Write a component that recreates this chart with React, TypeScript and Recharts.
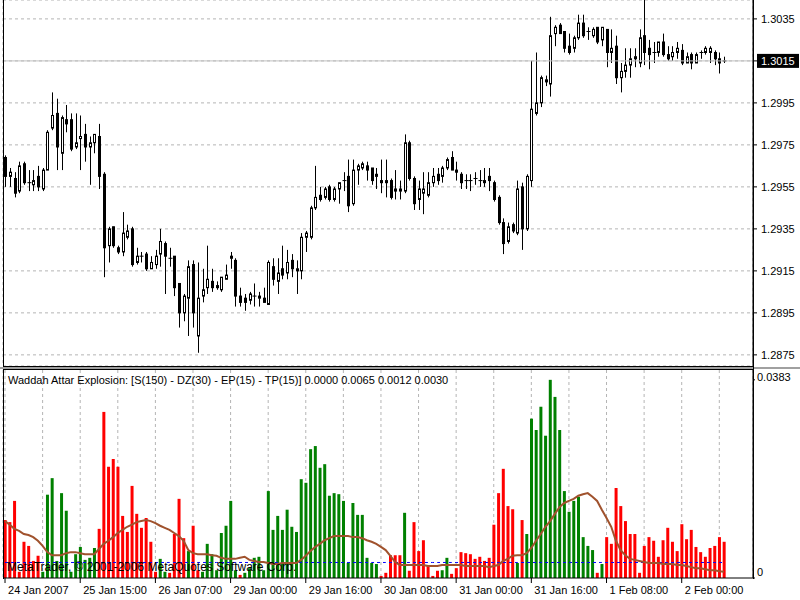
import React from 'react';
import { ComposedChart, Bar, Line, XAxis, YAxis, CartesianGrid, ReferenceLine } from 'recharts';

// EURUSD H1, 154 bars
const openPrices = [
  1.2969, 1.2960, 1.2959, 1.2953, 1.2966, 1.2957, 1.2956, 1.2960, 1.2954, 1.2963,
  1.2983, 1.2990, 1.2971, 1.2987, 1.2987, 1.2974, 1.2978, 1.2980, 1.2974, 1.2976,
  1.2979, 1.2961, 1.2927, 1.2936, 1.2926, 1.2924, 1.2931, 1.2935, 1.2919, 1.2922,
  1.2923, 1.2916, 1.2918, 1.2923, 1.2928, 1.2921, 1.2922, 1.2909, 1.2895, 1.2902,
  1.2918, 1.2884, 1.2903, 1.2907, 1.2910, 1.2907, 1.2906, 1.2911, 1.2921, 1.2920,
  1.2903, 1.2902, 1.2901, 1.2903, 1.2902, 1.2902, 1.2899, 1.2917, 1.2910, 1.2916,
  1.2914, 1.2920, 1.2915, 1.2915, 1.2931, 1.2931, 1.2945, 1.2951, 1.2950, 1.2955,
  1.2949, 1.2954, 1.2958, 1.2960, 1.2947, 1.2963, 1.2964, 1.2965, 1.2964, 1.2960,
  1.2958, 1.2957, 1.2958, 1.2954, 1.2953, 1.2953, 1.2976, 1.2959, 1.2949, 1.2952,
  1.2951, 1.2957, 1.2961, 1.2960, 1.2964, 1.2969, 1.2963, 1.2961, 1.2958, 1.2958,
  1.2959, 1.2958, 1.2957, 1.2960, 1.2957, 1.2950, 1.2938, 1.2929, 1.2937, 1.2933,
  1.2955, 1.2935, 1.2958, 1.2990, 1.2995, 1.3005, 1.3004, 1.3028, 1.3032, 1.3029,
  1.3022, 1.3021, 1.3026, 1.3033, 1.3029, 1.3027, 1.3031, 1.3025, 1.3030, 1.3019,
  1.3022, 1.3007, 1.3010, 1.3013, 1.3016, 1.3014, 1.3027, 1.3021, 1.3019, 1.3019,
  1.3024, 1.3018, 1.3017, 1.3019, 1.3020, 1.3014, 1.3018, 1.3014, 1.3019, 1.3019,
  1.3019, 1.3019, 1.3016, 1.3015,
];
const highPrices = [
  1.2970, 1.2964, 1.2962, 1.2967, 1.2967, 1.2963, 1.2963, 1.2965, 1.2964, 1.2982,
  1.3000, 1.2997, 1.2989, 1.2994, 1.2990, 1.2990, 1.2989, 1.2985, 1.2979, 1.2980,
  1.2985, 1.2962, 1.2936, 1.2936, 1.2927, 1.2943, 1.2937, 1.2936, 1.2926, 1.2924,
  1.2924, 1.2922, 1.2925, 1.2935, 1.2929, 1.2926, 1.2922, 1.2909, 1.2904, 1.2920,
  1.2920, 1.2919, 1.2916, 1.2927, 1.2916, 1.2910, 1.2912, 1.2918, 1.2924, 1.2921,
  1.2907, 1.2904, 1.2905, 1.2909, 1.2905, 1.2907, 1.2920, 1.2921, 1.2921, 1.2927,
  1.2925, 1.2923, 1.2920, 1.2933, 1.2934, 1.2946, 1.2965, 1.2955, 1.2955, 1.2956,
  1.2955, 1.2957, 1.2962, 1.2968, 1.2968, 1.2966, 1.2967, 1.2967, 1.2964, 1.2964,
  1.2968, 1.2968, 1.2959, 1.2963, 1.2958, 1.2980, 1.2977, 1.2960, 1.2958, 1.2962,
  1.2962, 1.2964, 1.2964, 1.2965, 1.2969, 1.2972, 1.2967, 1.2962, 1.2961, 1.2961,
  1.2962, 1.2963, 1.2964, 1.2964, 1.2958, 1.2951, 1.2940, 1.2938, 1.2938, 1.2958,
  1.2957, 1.2961, 1.3015, 1.3019, 1.3008, 1.3008, 1.3036, 1.3032, 1.3033, 1.3029,
  1.3028, 1.3027, 1.3037, 1.3037, 1.3031, 1.3031, 1.3031, 1.3031, 1.3030, 1.3030,
  1.3027, 1.3014, 1.3021, 1.3021, 1.3021, 1.3030, 1.3044, 1.3025, 1.3024, 1.3024,
  1.3028, 1.3022, 1.3022, 1.3024, 1.3023, 1.3019, 1.3019, 1.3019, 1.3020, 1.3022,
  1.3022, 1.3020, 1.3019, 1.3017,
];
const lowPrices = [
  1.2955, 1.2955, 1.2950, 1.2952, 1.2956, 1.2953, 1.2953, 1.2953, 1.2953, 1.2963,
  1.2982, 1.2963, 1.2963, 1.2981, 1.2972, 1.2973, 1.2963, 1.2967, 1.2956, 1.2971,
  1.2954, 1.2912, 1.2919, 1.2926, 1.2923, 1.2922, 1.2930, 1.2917, 1.2918, 1.2919,
  1.2915, 1.2916, 1.2916, 1.2917, 1.2904, 1.2917, 1.2903, 1.2888, 1.2891, 1.2884,
  1.2888, 1.2876, 1.2900, 1.2904, 1.2905, 1.2906, 1.2905, 1.2911, 1.2916, 1.2898,
  1.2898, 1.2896, 1.2899, 1.2898, 1.2898, 1.2900, 1.2899, 1.2908, 1.2904, 1.2911,
  1.2911, 1.2912, 1.2904, 1.2911, 1.2924, 1.2930, 1.2944, 1.2948, 1.2949, 1.2948,
  1.2948, 1.2947, 1.2953, 1.2943, 1.2946, 1.2956, 1.2963, 1.2958, 1.2956, 1.2954,
  1.2952, 1.2950, 1.2949, 1.2949, 1.2949, 1.2952, 1.2958, 1.2944, 1.2944, 1.2942,
  1.2950, 1.2955, 1.2956, 1.2957, 1.2963, 1.2963, 1.2958, 1.2954, 1.2954, 1.2953,
  1.2956, 1.2955, 1.2955, 1.2953, 1.2948, 1.2937, 1.2923, 1.2928, 1.2933, 1.2932,
  1.2925, 1.2934, 1.2955, 1.2989, 1.2993, 1.3003, 1.2998, 1.3022, 1.3028, 1.3019,
  1.3018, 1.3019, 1.3025, 1.3026, 1.3025, 1.3026, 1.3023, 1.3022, 1.3012, 1.3014,
  1.3004, 1.3000, 1.3007, 1.3007, 1.3012, 1.3012, 1.3013, 1.3011, 1.3014, 1.3017,
  1.3017, 1.3015, 1.3015, 1.3016, 1.3013, 1.3014, 1.3011, 1.3014, 1.3016, 1.3018,
  1.3014, 1.3013, 1.3009, 1.3014,
];
const closePrices = [
  1.2960, 1.2962, 1.2952, 1.2965, 1.2957, 1.2957, 1.2958, 1.2955, 1.2963, 1.2981,
  1.2989, 1.2974, 1.2988, 1.2985, 1.2973, 1.2976, 1.2979, 1.2974, 1.2976, 1.2980,
  1.2960, 1.2926, 1.2935, 1.2927, 1.2924, 1.2933, 1.2934, 1.2918, 1.2922, 1.2922,
  1.2916, 1.2919, 1.2922, 1.2929, 1.2922, 1.2921, 1.2907, 1.2895, 1.2903, 1.2917,
  1.2895, 1.2902, 1.2906, 1.2911, 1.2907, 1.2908, 1.2912, 1.2913, 1.2922, 1.2903,
  1.2900, 1.2900, 1.2904, 1.2903, 1.2903, 1.2900, 1.2919, 1.2911, 1.2914, 1.2913,
  1.2919, 1.2916, 1.2916, 1.2931, 1.2933, 1.2945, 1.2950, 1.2949, 1.2954, 1.2949,
  1.2954, 1.2957, 1.2958, 1.2946, 1.2963, 1.2965, 1.2966, 1.2963, 1.2958, 1.2961,
  1.2957, 1.2958, 1.2950, 1.2953, 1.2954, 1.2976, 1.2959, 1.2947, 1.2954, 1.2954,
  1.2957, 1.2960, 1.2958, 1.2964, 1.2968, 1.2963, 1.2962, 1.2957, 1.2958, 1.2958,
  1.2959, 1.2958, 1.2958, 1.2958, 1.2949, 1.2938, 1.2928, 1.2936, 1.2934, 1.2954,
  1.2935, 1.2960, 1.2992, 1.2995, 1.3007, 1.3006, 1.3027, 1.3031, 1.3028, 1.3021,
  1.3019, 1.3026, 1.3033, 1.3027, 1.3029, 1.3030, 1.3024, 1.3031, 1.3019, 1.3021,
  1.3007, 1.3010, 1.3013, 1.3016, 1.3017, 1.3026, 1.3019, 1.3018, 1.3019, 1.3024,
  1.3018, 1.3016, 1.3019, 1.3021, 1.3014, 1.3017, 1.3014, 1.3018, 1.3019, 1.3021,
  1.3021, 1.3016, 1.3014, 1.3015,
];

// Waddah Attar Explosion buffers
const redHist = [
  0.0112, 0.0108, 0.0149, 0.0012, 0.0070, 0.0062, 0.0033, 0.0043, 0, 0,
  0, 0, 0, 0, 0, 0, 0, 0, 0, 0,
  0.0095, 0.0321, 0.0215, 0.0230, 0.0215, 0.0120, 0.0089, 0.0178, 0.0124, 0.0097,
  0.0116, 0.0070, 0.0012, 0, 0, 0.0010, 0.0085, 0.0153, 0.0077, 0,
  0.0101, 0.0015, 0, 0, 0, 0, 0, 0, 0, 0,
  0.0006, 0, 0, 0, 0, 0, 0, 0, 0, 0,
  0, 0, 0, 0, 0, 0, 0, 0, 0, 0,
  0, 0, 0, 0, 0, 0, 0, 0, 0, 0,
  0.0004, 0.0010, 0.0044, 0.0044, 0.0044, 0, 0.0014, 0.0108, 0.0052, 0.0073,
  0.0023, 0.0004, 0.0014, 0, 0, 0.0008, 0.0019, 0.0050, 0.0048, 0.0046,
  0.0037, 0.0041, 0.0033, 0.0039, 0.0103, 0.0164, 0.0211, 0.0139, 0.0133, 0,
  0.0112, 0, 0, 0, 0, 0, 0, 0, 0, 0,
  0, 0, 0, 0, 0, 0, 0.0010, 0, 0.0079, 0.0066,
  0.0174, 0.0139, 0.0110, 0.0085, 0.0085, 0.0010, 0.0062, 0.0079, 0.0072, 0.0041,
  0.0073, 0.0097, 0.0070, 0.0052, 0.0104, 0.0075, 0.0093, 0.0060, 0.0050, 0.0041,
  0.0058, 0.0062, 0.0079, 0.0070,
];
const greenHist = [
  0, 0, 0, 0, 0, 0, 0, 0, 0.0012, 0.0161,
  0.0193, 0.0033, 0.0164, 0.0130, 0.0012, 0.0046, 0.0060, 0.0035, 0.0039, 0.0058,
  0, 0, 0, 0, 0, 0, 0, 0, 0, 0,
  0, 0, 0, 0.0037, 0.0012, 0, 0, 0, 0, 0.0052,
  0, 0, 0.0012, 0.0066, 0.0046, 0.0015, 0.0087, 0.0101, 0.0149, 0.0015,
  0, 0.0010, 0.0019, 0.0039, 0.0041, 0.0015, 0.0168, 0.0093, 0.0120, 0.0093,
  0.0132, 0.0099, 0.0089, 0.0191, 0.0184, 0.0249, 0.0255, 0.0213, 0.0220, 0.0159,
  0.0164, 0.0162, 0.0149, 0.0029, 0.0145, 0.0122, 0.0122, 0.0039, 0.0029, 0.0027,
  0, 0, 0, 0, 0, 0.0126, 0, 0, 0, 0,
  0, 0, 0, 0.0015, 0.0039, 0, 0, 0, 0, 0,
  0, 0, 0, 0, 0, 0, 0, 0, 0, 0.0029,
  0, 0.0085, 0.0308, 0.0286, 0.0331, 0.0275, 0.0383, 0.0350, 0.0286, 0.0168,
  0.0128, 0.0149, 0.0157, 0.0079, 0.0062, 0.0054, 0, 0.0027, 0, 0,
  0, 0, 0, 0, 0, 0, 0, 0, 0, 0,
  0, 0, 0, 0, 0, 0, 0, 0, 0, 0,
  0, 0, 0, 0,
];
const explosionLine = [
  0.0110, 0.0103, 0.0095, 0.0091, 0.0085, 0.0083, 0.0079, 0.0072, 0.0062, 0.0050,
  0.0044, 0.0044, 0.0044, 0.0048, 0.0050, 0.0050, 0.0048, 0.0046, 0.0046, 0.0046,
  0.0056, 0.0066, 0.0072, 0.0079, 0.0087, 0.0093, 0.0099, 0.0103, 0.0108, 0.0110,
  0.0112, 0.0110, 0.0106, 0.0101, 0.0097, 0.0093, 0.0087, 0.0081, 0.0072, 0.0054,
  0.0048, 0.0046, 0.0046, 0.0046, 0.0044, 0.0043, 0.0039, 0.0037, 0.0037, 0.0037,
  0.0039, 0.0041, 0.0035, 0.0033, 0.0031, 0.0031, 0.0029, 0.0027, 0.0027, 0.0029,
  0.0029, 0.0029, 0.0029, 0.0035, 0.0043, 0.0052, 0.0060, 0.0066, 0.0073, 0.0077,
  0.0081, 0.0081, 0.0081, 0.0081, 0.0079, 0.0079, 0.0077, 0.0073, 0.0070, 0.0066,
  0.0060, 0.0054, 0.0043, 0.0031, 0.0025, 0.0025, 0.0025, 0.0025, 0.0025, 0.0025,
  0.0023, 0.0023, 0.0023, 0.0025, 0.0025, 0.0025, 0.0025, 0.0025, 0.0023, 0.0023,
  0.0023, 0.0023, 0.0023, 0.0021, 0.0023, 0.0025, 0.0033, 0.0037, 0.0043, 0.0044,
  0.0044, 0.0048, 0.0058, 0.0072, 0.0085, 0.0099, 0.0110, 0.0124, 0.0137, 0.0145,
  0.0149, 0.0153, 0.0159, 0.0162, 0.0164, 0.0157, 0.0149, 0.0132, 0.0116, 0.0099,
  0.0072, 0.0054, 0.0044, 0.0037, 0.0035, 0.0033, 0.0031, 0.0029, 0.0029, 0.0029,
  0.0027, 0.0027, 0.0027, 0.0025, 0.0025, 0.0023, 0.0021, 0.0019, 0.0019, 0.0017,
  0.0015, 0.0015, 0.0013, 0.0012,
];
const deadZone = 0.003;

const priceTicks = [1.2875, 1.2895, 1.2915, 1.2935, 1.2955, 1.2975, 1.2995, 1.3015, 1.3035];
const lastPrice = 1.3015;
const indicatorTicks = [0, 0.0383];
const timeLabels = [
  '24 Jan 2007', '25 Jan 15:00', '26 Jan 07:00', '29 Jan 00:00', '29 Jan 16:00',
  '30 Jan 08:00', '31 Jan 00:00', '31 Jan 16:00', '1 Feb 08:00', '2 Feb 00:00',
];
const labelStep = 16;
const gridStep = 8;

const title = 'Waddah Attar Explosion: [S(150) - DZ(30) - EP(15) - TP(15)] 0.0000 0.0065 0.0012 0.0030';
const watermark = 'MetaTrader, \u00a9 2001-2006 MetaQuotes Software Corp.';

const data = openPrices.map((open, i) => ({
  i,
  open,
  high: highPrices[i],
  low: lowPrices[i],
  close: closePrices[i],
  red: redHist[i],
  green: greenHist[i],
  explosion: explosionLine[i],
  dz: deadZone,
}));

const gridTicks = Array.from({ length: Math.floor(data.length / gridStep) + 1 }, (_, k) => k * gridStep);

const FONT = '"Liberation Sans", Arial, sans-serif';
const GRID = '#b4b4b4';
const xDomain: [number, number] = [-0.43, 159.17];

const Candle = (props: any) => {
  const { x, y, width, height, payload } = props;
  if (x == null || payload == null) return null;
  const { open, close, high, low } = payload;
  const cx = Math.round(x + width / 2) + 0.5;
  const range = high - low;
  const toY = (p: number) => (range === 0 ? y : y + ((high - p) / range) * height);
  const yo = toY(open);
  const yc = toY(close);
  const top = Math.min(yo, yc);
  const bot = Math.max(yo, yc);
  const up = close > open;
  return (
    <g>
      <line x1={cx} x2={cx} y1={y} y2={y + height} stroke="#000" strokeWidth={1} />
      {bot - top < 1 ? (
        <line x1={cx - 2} x2={cx + 2} y1={top} y2={top} stroke="#000" strokeWidth={1} />
      ) : (
        <rect x={cx - 1} y={top} width={2} height={bot - top} fill={up ? '#fff' : '#000'} stroke="#000" strokeWidth={1} />
      )}
    </g>
  );
};

const PriceTick = (props: any) => {
  const { x, y, payload } = props;
  const v = payload.value;
  if (v === lastPrice) {
    return (
      <g>
        <rect x={x - 4} y={y - 7} width={42} height={14} fill="#000" />
        <text x={x} y={y + 4} fill="#fff" fontSize={11} fontFamily={FONT}>{v.toFixed(4)}</text>
      </g>
    );
  }
  return <text x={x} y={y + 4} fill="#000" fontSize={11} fontFamily={FONT}>{v.toFixed(4)}</text>;
};

const IndicatorTick = (props: any) => {
  const { x, y, payload } = props;
  const v = payload.value;
  return (
    <text x={x} y={v === 0 ? y - 2 : y + 1} fill="#000" fontSize={11} fontFamily={FONT}>
      {v === 0 ? '0' : v.toFixed(4)}
    </text>
  );
};

const TimeTick = (props: any) => {
  const { x, y, payload } = props;
  const k = payload.value;
  if (k % labelStep !== 0 || k / labelStep >= timeLabels.length) return <g />;
  return (
    <g>
      <line x1={x} x2={x} y1={y} y2={y + 5} stroke="#000" />
      <text x={x + 3} y={y + 16} fill="#000" fontSize={11} fontFamily={FONT}>{timeLabels[k / labelStep]}</text>
    </g>
  );
};

export default function App() {
  return (
    <div style={{ position: 'relative', width: 800, height: 600, background: '#fff', overflow: 'hidden' }}>
      <style>{'body{margin:0}'}</style>
      <div style={{ position: 'absolute', left: 0, top: 0 }}>
        <ComposedChart width={800} height={366} data={data} margin={{ top: 0, right: 0, bottom: 0, left: 3 }}>
          <CartesianGrid stroke={GRID} strokeDasharray="3 3" />
          <XAxis
            type="number"
            dataKey="i"
            domain={xDomain}
            allowDataOverflow
            ticks={gridTicks}
            interval={0}
            height={0}
            axisLine={false}
            tickLine={false}
            tick={false}
          />
          <YAxis
            orientation="right"
            type="number"
            domain={[1.28697, 1.3044]}
            allowDataOverflow
            ticks={[...priceTicks]}
            width={47}
            axisLine={{ stroke: '#000' }}
            tickLine={{ stroke: '#000' }}
            tickSize={4}
            tickMargin={4}
            tick={<PriceTick />}
          />
          <ReferenceLine y={lastPrice} stroke="#c0c0c0" strokeWidth={1} />
          <Bar
            dataKey={(d: any) => [d.low, d.high]}
            barSize={3}
            shape={(p: any) => <Candle {...p} />}
            isAnimationActive={false}
          />
        </ComposedChart>
      </div>
      <div style={{ position: 'absolute', left: 0, top: 369 }}>
        <ComposedChart width={800} height={231} data={data} margin={{ top: 1, right: 0, bottom: 0, left: 3 }}>
          <CartesianGrid horizontal={false} stroke={GRID} strokeDasharray="3 3" />
          <XAxis
            type="number"
            dataKey="i"
            domain={xDomain}
            allowDataOverflow
            ticks={gridTicks}
            interval={0}
            height={22}
            axisLine={{ stroke: '#000' }}
            tickLine={false}
            tickSize={0}
            tickMargin={0}
            tick={<TimeTick />}
          />
          <YAxis
            orientation="right"
            type="number"
            domain={[0, 0.0402]}
            allowDataOverflow
            ticks={indicatorTicks}
            width={47}
            axisLine={{ stroke: '#000' }}
            tickLine={{ stroke: '#000' }}
            tickSize={2}
            tickMargin={2}
            tick={<IndicatorTick />}
          />
          <Bar dataKey="green" stackId="h" fill="#008000" barSize={3} isAnimationActive={false} />
          <Bar dataKey="red" stackId="h" fill="#ff0000" barSize={3} isAnimationActive={false} />
          <Line dataKey="dz" stroke="#0000ff" strokeDasharray="3 3" strokeWidth={1} dot={false} isAnimationActive={false} />
          <Line dataKey="explosion" stroke="#a0522d" strokeWidth={2} dot={false} isAnimationActive={false} />
        </ComposedChart>
      </div>
      <svg width={800} height={600} style={{ position: 'absolute', left: 0, top: 0, pointerEvents: 'none' }}>
        <line x1={3.5} x2={3.5} y1={0} y2={579} stroke="#000" />
        <line x1={3} x2={754} y1={366.5} y2={366.5} stroke="#000" />
        <rect x={0} y={367} width={800} height={2} fill="#a0a0a0" />
        <line x1={3} x2={754} y1={369.5} y2={369.5} stroke="#000" />
        <line x1={753.5} x2={753.5} y1={0} y2={579} stroke="#000" />
        <text x={8} y={384} fontSize={11} fontFamily={FONT} fill="#000">{title}</text>
        <text x={7} y={571} fontSize={12} fontFamily={FONT} fill="#000">{watermark}</text>
      </svg>
    </div>
  );
}
